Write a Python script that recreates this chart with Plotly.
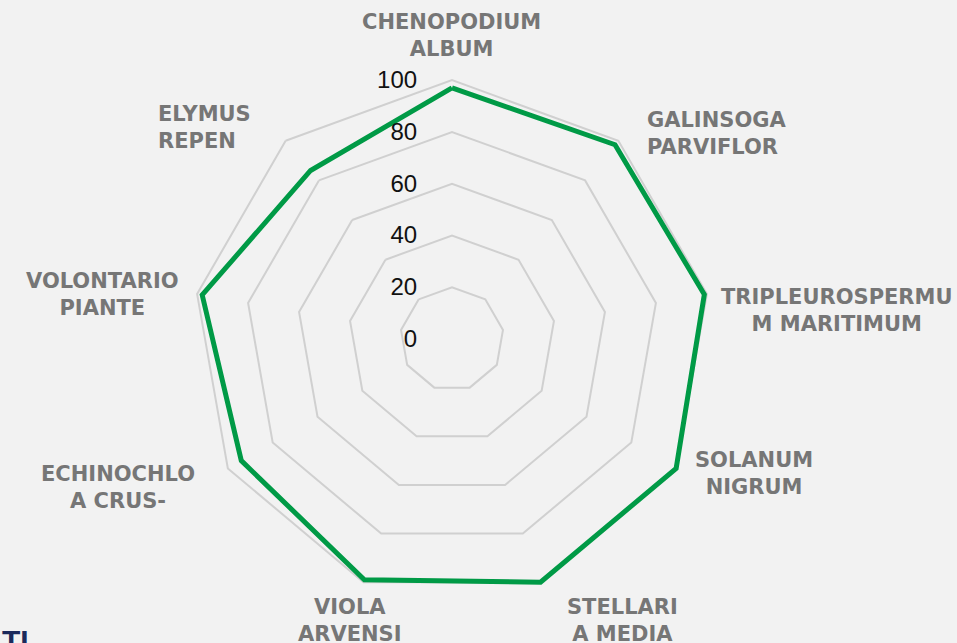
import plotly.graph_objects as go

# categorie (in senso orario dall'alto) e valori
categories = [
    "CHENOPODIUM ALBUM",
    "GALINSOGA PARVIFLOR",
    "TRIPLEUROSPERMUM MARITIMUM",
    "SOLANUM NIGRUM",
    "STELLARIA MEDIA",
    "VIOLA ARVENSI",
    "ECHINOCHLOA CRUS-",
    "VOLONTARIO PIANTE",
    "ELYMUS REPEN",
]
# etichette come appaiono (a capo dentro la parola, come nell'originale)
label_texts = [
    "CHENOPODIUM<br>ALBUM",
    "GALINSOGA<br>PARVIFLOR",
    "TRIPLEUROSPERMU<br>M MARITIMUM",
    "SOLANUM<br>NIGRUM",
    "STELLARI<br>A MEDIA",
    "VIOLA<br>ARVENSI",
    "ECHINOCHLO<br>A CRUS-",
    "VOLONTARIO<br>PIANTE",
    "ELYMUS<br>REPEN",
]
values = [97, 98, 99, 100, 100, 99, 94, 98, 85]
radial_ticks = [0, 20, 40, 60, 80, 100]

# layout: posizione (px) del centro di ogni etichetta e allineamento
W, H = 957, 643
M = dict(l=188, r=241, t=75, b=40)
LABEL_POS = [
    (451, 35, "center"),
    (716, 134, "left"),
    (836, 310, "center"),
    (754, 473, "center"),
    (622, 620, "center"),
    (350, 620, "center"),
    (118, 487, "center"),
    (102, 294, "center"),
    (204, 128, "left"),
]

BG = "#f2f2f2"
GRID = "#d0d0d0"
GREEN = "#009a46"
LABEL = "#767676"

pw = W - M["l"] - M["r"]
ph = H - M["t"] - M["b"]


def to_paper(px, py):
    return (px - M["l"]) / pw, (H - M["b"] - py) / ph


fig = go.Figure()
fig.add_trace(
    go.Scatterpolar(
        r=values + values[:1],
        theta=categories + categories[:1],
        mode="lines",
        line=dict(color=GREEN, width=5),
        cliponaxis=False,
        showlegend=False,
    )
)

annotations = []
for text, (px, py, al) in zip(label_texts, LABEL_POS):
    x, y = to_paper(px, py)
    annotations.append(
        dict(
            text=text, x=x, y=y, xref="paper", yref="paper",
            xanchor="center", yanchor="middle", align=al, showarrow=False,
            font=dict(family="DejaVu Sans", size=21, color=LABEL, weight="bold"),
        )
    )
# testo della slide tagliato in basso a sinistra
tx, ty = to_paper(0, 622)
annotations.append(
    dict(
        text="<b>TI</b>", x=tx, y=ty, xref="paper", yref="paper",
        xanchor="left", yanchor="top", showarrow=False,
        font=dict(family="Liberation Sans", size=30, color="#1b2a5c"),
    )
)

fig.update_layout(
    width=W,
    height=H,
    paper_bgcolor=BG,
    plot_bgcolor=BG,
    margin=M,
    annotations=annotations,
    polar=dict(
        bgcolor=BG,
        gridshape="linear",
        angularaxis=dict(
            rotation=90,
            direction="clockwise",
            showgrid=False,
            showline=False,
            showticklabels=False,
            ticks="",
        ),
        radialaxis=dict(
            range=[0, 102],
            tickvals=radial_ticks,
            angle=90,
            tickangle=90,
            side="counterclockwise",
            showline=False,
            showgrid=True,
            gridcolor=GRID,
            gridwidth=2,
            ticks="outside",
            ticklen=26,
            tickcolor="rgba(0,0,0,0)",
            tickfont=dict(family="Liberation Sans", size=24, color="#111111"),
        ),
    ),
)

fig.write_html(
    "out.html",
    config={"displayModeBar": False},
    post_script="document.body.style.margin='0';",
)
